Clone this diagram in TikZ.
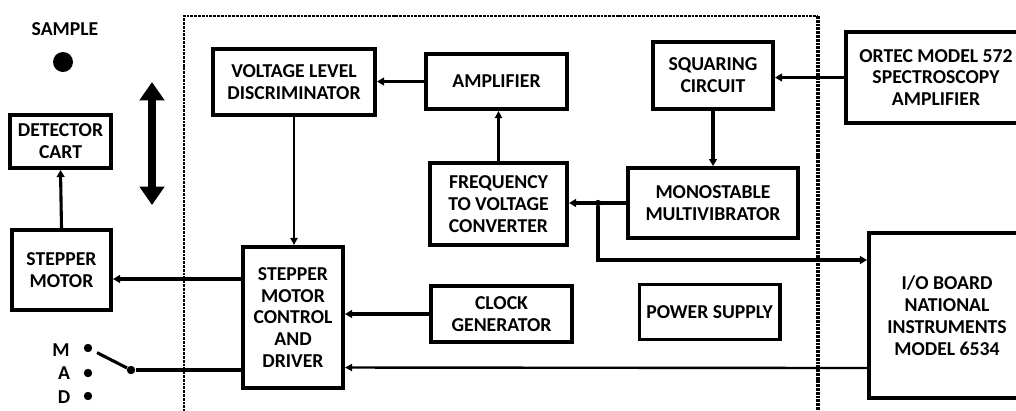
\documentclass[tikz,border=0pt]{standalone}
\usepackage{fontspec}
\setmainfont{Carlito}
\usetikzlibrary{positioning,arrows.meta,calc}
\definecolor{lnblack}{HTML}{000000}
\tikzset{
  blk/.style   ={draw=lnblack, line width=2.8pt, align=center, inner sep=1pt,
                 font=\fontsize{14}{15.6}\selectfont\bfseries},
  lbl/.style   ={font=\fontsize{14}{15.6}\selectfont\bfseries, inner sep=0pt},
  wire/.style  ={lnblack, line width=2.2pt},
  sig/.style   ={wire, -{Triangle[length=5pt,width=5.5pt]}},
  thsig/.style ={lnblack, line width=1.7pt, -{Triangle[length=5pt,width=5pt]}},
  frame/.style ={lnblack, line width=2pt, dash pattern=on 2pt off 0.7pt},
  jdot/.style  ={circle, fill=lnblack, inner sep=0pt, minimum size=4.5pt},
  sdot/.style  ={circle, fill=lnblack, inner sep=0pt, minimum size=6pt},
  bigarr/.style={lnblack, line width=5pt,
                 {Triangle[length=13pt,width=17pt]}-{Triangle[length=13pt,width=17pt]}},
}

\begin{document}
\begin{tikzpicture}[x=0.025cm, y=-0.025cm]
  \useasboundingbox (0,0) rectangle (1016,410);
  \draw[frame] (184,412) -- (184,16) -- (818,16);
  \draw[frame, line width=3.2pt] (818,16) -- (818,412);

  \node[lbl] (smp) at (65,29) {SAMPLE};
  \fill[lnblack] (63,62) circle (10);
  \coordinate (up) at (152,82);
  \coordinate (dn) at (152,205);
  \draw[bigarr] (up) -- (dn);

  \node[blk, minimum width=2.525cm, minimum height=1.325cm] (det) at (60.5,141.5) {DETECTOR\\CART};
  \node[blk, minimum width=2.475cm, minimum height=2cm] (mot) at (61.5,270) {STEPPER\\MOTOR};
  \node[blk, minimum width=4.05cm, minimum height=1.65cm] (vld) at (294,82) {VOLTAGE LEVEL\\DISCRIMINATOR};
  \node[blk, minimum width=3.525cm, minimum height=1.375cm] (amp) at (496.5,81.5) {AMPLIFIER};
  \node[blk, minimum width=3.425cm, minimum height=2.05cm] (fvc) at (498.5,204) {FREQUENCY\\TO VOLTAGE\\CONVERTER};
  \node[blk, minimum width=3cm, minimum height=1.675cm] (sq) at (713,75.5) {SQUARING\\CIRCUIT};
  \node[blk, minimum width=4.25cm, minimum height=1.75cm] (mono) at (713,203) {MONOSTABLE\\MULTIVIBRATOR};
  \node[blk, minimum width=4.5cm, minimum height=2.275cm] (ortec) at (936,77.5) {ORTEC MODEL 572\\SPECTROSCOPY\\AMPLIFIER};
  \node[blk, minimum width=2.5cm, minimum height=3.525cm] (smcd) at (293,317.5) {STEPPER\\MOTOR\\CONTROL\\AND\\DRIVER};
  \node[blk, minimum width=3.525cm, minimum height=1.4cm] (clk) at (501.5,314) {CLOCK\\GENERATOR};
  \node[blk, minimum width=3.5cm, minimum height=1.375cm] (pwr) at (709.5,312) {POWER SUPPLY};
  \node[blk, minimum width=3.9cm, minimum height=4.125cm] (io) at (947,315.5) {I/O BOARD\\NATIONAL\\INSTRUMENTS\\MODEL 6534};

  \node[lbl] (mm) at (61,350) {M};
  \node[lbl] (aa) at (64,373) {A};
  \node[lbl] (dd) at (64,397) {D};
  \node[sdot] (mdot) at (88,348) {};
  \node[sdot] (adot) at (88,373) {};
  \node[sdot] (ddot) at (88,396) {};
  \node[sdot] (piv) at (131,370) {};
  \node[jdot] (jn) at (598,203) {};

  \draw[sig] (mot.north) -- (det.south);
  \draw[sig] ($(smcd.west)+(0,-38.5)$) -- ($(mot.east)+(0,9)$);
  \draw[thsig] (vld.south) -- (vld.south |- smcd.north);
  \draw[sig] (amp.west) -- (amp.west -| vld.east);
  \draw[thsig] (fvc.north) -- (fvc.north |- amp.south);
  \draw[sig] (ortec.west) -- (ortec.west -| sq.east);
  \draw[sig] (sq.south) -- (sq.south |- mono.north);
  \draw[sig] (mono.west) -- (mono.west -| fvc.east);
  \draw[sig] (jn) |- ($(io.north west)+(0,29)$);
  \draw[sig] (clk.west) -- (clk.west -| smcd.east);
  \draw[thsig] ($(io.north west)+(0,137)$) -- ($(smcd.north east)+(0,122.5)$);
  \draw[wire, shorten >=4pt] (piv) -- (mdot);
  \draw[wire] (piv) -- (piv -| smcd.west);
\end{tikzpicture}
\end{document}
